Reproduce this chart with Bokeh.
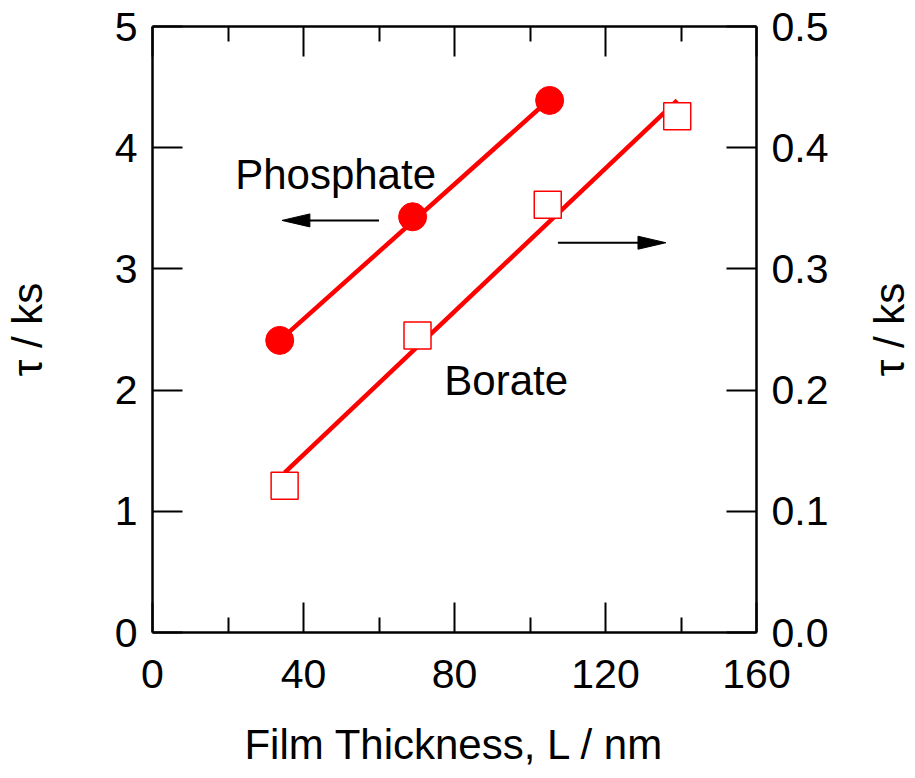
import math
from bokeh.plotting import figure
from bokeh.models import (Range1d, LinearAxis, FixedTicker, PrintfTickFormatter, Label)
from bokeh.embed import file_html
from bokeh.resources import INLINE

# ---------------- data ----------------
phosphate_L = [33.7, 68.9, 105.2]
phosphate_tau = [2.41, 3.43, 4.39]          # left axis, ks
borate_L = [35.0, 70.2, 104.7, 139.0]
borate_tau = [0.121, 0.245, 0.353, 0.426]   # right axis, ks

phosphate_fit_L = [33.7, 105.2]
phosphate_fit_tau = [2.41, 4.40]
borate_fit_L = [35.0, 139.0]
borate_fit_tau = [0.132, 0.439]

x_ticks = [0, 40, 80, 120, 160]
x_minor_ticks = [20, 60, 100, 140]
left_ticks = [0, 1, 2, 3, 4, 5]
right_ticks = [0.0, 0.1, 0.2, 0.3, 0.4, 0.5]

# ---------------- layout ----------------
W, H = 915, 778
ML, MR, MT, MB = 150, 159, 26, 146
FW = W - ML - MR
FH = H - MT - MB
X0, X1 = 0, 160
Y0, Y1 = 0, 5
px_x = FW / (X1 - X0)
px_y = FH / (Y1 - Y0)

FONT = "Liberation Sans"
TICK_FS = "41px"
TITLE_FS = "42px"
RED = "#ff0000"

p = figure(width=W, height=H, output_backend="svg", toolbar_location=None,
           x_range=Range1d(X0, X1), y_range=Range1d(Y0, Y1),
           min_border_left=ML, min_border_right=MR,
           min_border_top=MT, min_border_bottom=MB)
p.extra_y_ranges = {"right": Range1d(0, 0.5)}
p.outline_line_color = None
p.xgrid.visible = False
p.ygrid.visible = False
p.background_fill_color = "white"
p.border_fill_color = "white"


def style(ax, minor=True):
    ax.axis_line_width = 2.5
    ax.axis_line_color = "black"
    ax.major_tick_in = 30
    ax.major_tick_out = 0
    ax.major_tick_line_width = 2
    ax.major_tick_line_color = "black"
    if minor:
        ax.minor_tick_in = 15
        ax.minor_tick_out = 0
        ax.minor_tick_line_width = 2
        ax.minor_tick_line_color = "black"
    else:
        ax.minor_tick_line_color = None
    ax.major_label_text_font = FONT
    ax.major_label_text_color = "black"
    ax.major_label_text_font_size = TICK_FS
    ax.major_label_standoff = 15
    ax.axis_label_text_font = FONT
    ax.axis_label_text_font_size = TITLE_FS
    ax.axis_label_text_font_style = "normal"
    ax.axis_label_text_color = "black"


# bottom axis
xa = p.xaxis[0]
xa.ticker = FixedTicker(ticks=x_ticks, minor_ticks=x_minor_ticks)
style(xa)
xa.major_label_standoff = 27
xa.axis_label = "Film Thickness, L / nm"
xa.axis_label_standoff = 30

# left axis
ya = p.yaxis[0]
ya.ticker = FixedTicker(ticks=left_ticks)
style(ya, minor=False)
ya.axis_label = "\u03c4 / ks"
ya.axis_label_standoff = 61

# top side: tick marks only (no labels) -> two label-free axes using minor ticks
top_long = LinearAxis(ticker=FixedTicker(ticks=[], minor_ticks=x_ticks))
style(top_long)
top_long.minor_tick_in = 30
p.add_layout(top_long, "above")
top_short = LinearAxis(ticker=FixedTicker(ticks=[], minor_ticks=x_minor_ticks))
style(top_short)
top_short.axis_line_color = None
p.add_layout(top_short, "above")

# right axis
right = LinearAxis(y_range_name="right", ticker=FixedTicker(ticks=right_ticks),
                   formatter=PrintfTickFormatter(format="%.1f"))
style(right, minor=False)
p.add_layout(right, "right")

# right axis title: a rotated label living in the right side panel
p.add_layout(Label(x=(889 - ML) / px_x, y=(Y0 + Y1) / 2, text="\u03c4 / ks",
                   angle=math.pi / 2, text_font=FONT, text_font_size=TITLE_FS,
                   text_align="center", text_baseline="alphabetic",
                   text_color="black"), "right")

# ---------------- series ----------------
p.line(phosphate_fit_L, phosphate_fit_tau, line_color=RED, line_width=4.5)
p.line(borate_fit_L, borate_fit_tau, line_color=RED, line_width=4.5,
       y_range_name="right")
p.scatter(phosphate_L, phosphate_tau, marker="circle", size=28,
          fill_color=RED, line_color=RED)
p.scatter(borate_L, borate_tau, marker="square", size=27,
          fill_color="white", line_color=RED, line_width=1.5,
          y_range_name="right")

# ---------------- arrows ----------------
arrows = [  # (tail_x, tip_x, y) in bottom / left-axis units
    (60.0, 34.3, 3.40),
    (107.4, 136.0, 3.216),
]
head_len_px, head_half_px = 28, 6.5
for tail, tip, yy in arrows:
    d = 1 if tip > tail else -1
    hl = head_len_px / px_x
    hw = head_half_px / px_y
    p.line([tail, tip - d * hl * 0.5], [yy, yy], line_color="black", line_width=2)
    p.patch([tip, tip - d * hl, tip - d * hl], [yy, yy + hw, yy - hw],
            fill_color="black", line_color="black", line_width=1)

# ---------------- annotations ----------------
p.add_layout(Label(x=21.9, y=3.775, text="Phosphate", text_font=FONT,
                   text_font_size=TITLE_FS, text_align="left",
                   text_baseline="alphabetic", text_color="black"))
p.add_layout(Label(x=77.3, y=2.076, text="Borate", text_font=FONT,
                   text_font_size=TITLE_FS, text_align="left",
                   text_baseline="alphabetic", text_color="black"))

open("out.html", "w").write(file_html(p, INLINE))
